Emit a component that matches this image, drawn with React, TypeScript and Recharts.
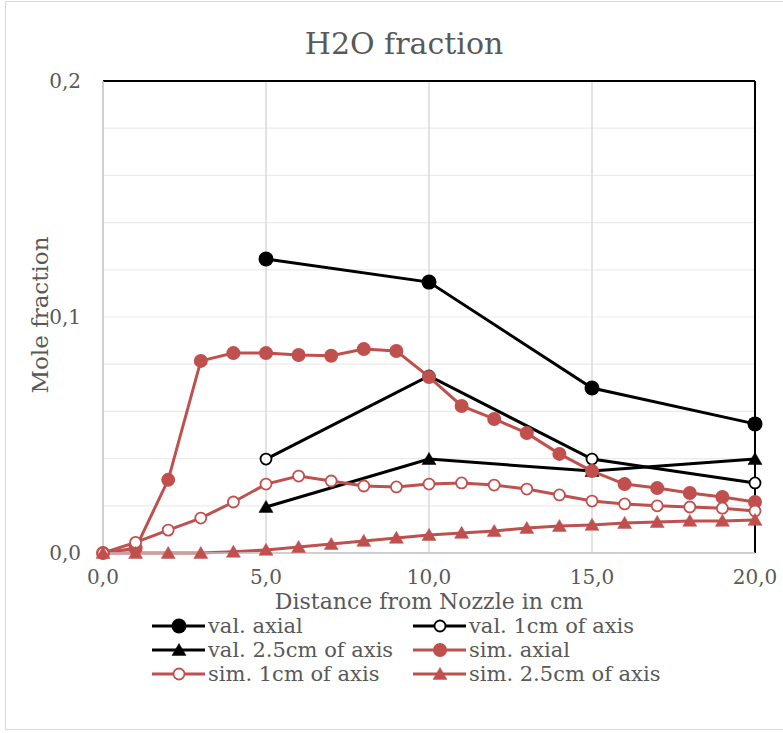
import React from 'react';
import { LineChart, Line, XAxis, YAxis, CartesianGrid, ReferenceLine, Legend } from 'recharts';

const valX = [5, 10, 15, 20];
const valAxial = [0.1246, 0.1148, 0.0699, 0.0547];
const val1cm = [0.0398, 0.075, 0.0398, 0.0297];
const val25cm = [0.0195, 0.0398, 0.0347, 0.0398];

const simX = [0, 1, 2, 3, 4, 5, 6, 7, 8, 9, 10, 11, 12, 13, 14, 15, 16, 17, 18, 19, 20];
const simAxial = [0, 0.002, 0.031, 0.0814, 0.0847, 0.0847, 0.0839, 0.0836, 0.0864, 0.0856, 0.0746, 0.0623, 0.0568, 0.0508, 0.042, 0.0347, 0.0292, 0.0275, 0.0254, 0.0237, 0.0216];
const sim1cm = [0, 0.0045, 0.0097, 0.0148, 0.0216, 0.0292, 0.0326, 0.0305, 0.0284, 0.028, 0.0292, 0.0297, 0.0288, 0.0271, 0.0246, 0.022, 0.0208, 0.02, 0.0195, 0.019, 0.0178];
const sim25cm = [0, 0, 0, 0, 0.0005, 0.0013, 0.0025, 0.0038, 0.0051, 0.0064, 0.0076, 0.0085, 0.0093, 0.0106, 0.0114, 0.0119, 0.0127, 0.0131, 0.0136, 0.0136, 0.014];

const xTicks = [0, 5, 10, 15, 20];
const yTicks = [0, 0.1, 0.2];
const yGrid = [0.02, 0.04, 0.06, 0.08, 0.1, 0.12, 0.14, 0.16, 0.18];
const xGrid = [5, 10, 15];

const seriesNames = ['val. axial', 'val. 1cm of axis', 'val. 2.5cm of axis', 'sim. axial', 'sim. 1cm of axis', 'sim. 2.5cm of axis'];

const valData = valX.map((x, i) => ({ x, a: valAxial[i], b: val1cm[i], c: val25cm[i] }));
const simData = simX.map((x, i) => ({ x, a: simAxial[i], b: sim1cm[i], c: sim25cm[i] }));

const RED = '#C0504D';
const BLACK = '#000000';
const TEXT = '#595959';
const FONT = '"DejaVu Serif", serif';

type Kind = 'filled' | 'open' | 'tri';

const shape = (kind: Kind, color: string, cx: number, cy: number, key?: any, big = false) => {
  if (kind === 'filled') {
    return <circle key={key} cx={cx} cy={cy} r={big ? 7.5 : 7} fill={color} stroke={color} strokeWidth={0} />;
  }
  if (kind === 'open') {
    return <circle key={key} cx={cx} cy={cy} r={5.5} fill="#ffffff" stroke={color} strokeWidth={1.8} />;
  }
  const w = 14;
  const h = 12;
  const pts = `${cx},${cy - h * 0.55} ${cx - w / 2},${cy + h * 0.45} ${cx + w / 2},${cy + h * 0.45}`;
  return <polygon key={key} points={pts} fill={color} stroke={color} strokeWidth={0.5} />;
};

const makeDot = (kind: Kind, color: string, big = false) => (props: any) => {
  const { cx, cy, index } = props;
  if (cx == null || cy == null) return <g key={index} />;
  return shape(kind, color, cx, cy, index, big);
};

const series = [
  { name: seriesNames[0], data: valData, key: 'a', color: BLACK, kind: 'filled' as Kind, big: true, sw: 3 },
  { name: seriesNames[1], data: valData, key: 'b', color: BLACK, kind: 'open' as Kind, big: false, sw: 3 },
  { name: seriesNames[2], data: valData, key: 'c', color: BLACK, kind: 'tri' as Kind, big: false, sw: 3 },
  { name: seriesNames[3], data: simData, key: 'a', color: RED, kind: 'filled' as Kind, big: false, sw: 3 },
  { name: seriesNames[4], data: simData, key: 'b', color: RED, kind: 'open' as Kind, big: false, sw: 3 },
  { name: seriesNames[5], data: simData, key: 'c', color: RED, kind: 'tri' as Kind, big: false, sw: 3 },
];

const fmt = (v: number) => v.toFixed(1).replace('.', ',');

const legendCols = [152, 413];
const legendRows = [626, 650, 674];

const LegendContent = () => (
  <div style={{ position: 'relative', width: 783, height: 0 }}>
    {series.map((s, i) => {
      const col = i % 2;
      const row = Math.floor(i / 2);
      const left = legendCols[col];
      const cy = legendRows[row];
      return (
        <div key={i} style={{ position: 'absolute', left, top: cy - 11, height: 22, display: 'flex', alignItems: 'center', whiteSpace: 'nowrap' }}>
          <svg width={54} height={22} style={{ display: 'block' }}>
            <line x1={0} y1={11} x2={53} y2={11} stroke={s.color} strokeWidth={3.2} />
            {shape(s.kind, s.color, 27, 11, undefined, s.big)}
          </svg>
          <span style={{ fontFamily: FONT, fontSize: 21, color: TEXT, marginLeft: 2, lineHeight: '22px' }}>{s.name}</span>
        </div>
      );
    })}
  </div>
);

export default function App() {
  return (
    <div style={{ position: 'absolute', left: 0, top: 0, width: 783, height: 733, overflow: 'hidden', background: '#ffffff' }}>
      <div style={{ position: 'absolute', left: 5, top: 1, width: 790, height: 729, border: '1px solid #d9d9d9', boxSizing: 'border-box' }} />
      <LineChart
        width={783}
        height={733}
        margin={{ top: 81, right: 28, bottom: 150, left: 43 }}
        style={{ position: 'absolute', left: 0, top: 0 }}
      >
        <CartesianGrid horizontal={true} vertical={false} horizontalValues={yGrid} stroke="#ebebeb" strokeWidth={1.2} />
        {xGrid.map((v) => (
          <ReferenceLine key={'vx' + v} x={v} stroke="#d9d9d9" strokeWidth={1.5} />
        ))}
        <ReferenceLine y={0.2} stroke="#000000" strokeWidth={2} />
        <ReferenceLine x={20} stroke="#000000" strokeWidth={2} />
        <XAxis
          type="number"
          dataKey="x"
          domain={[0, 20]}
          ticks={xTicks}
          allowDuplicatedCategory={false}
          tickFormatter={fmt}
          axisLine={{ stroke: '#bfbfbf', strokeWidth: 1.5 }}
          tickLine={false}
          tickSize={6}
          tickMargin={11}
          height={30}
          tick={{ fill: TEXT, fontSize: 20, fontFamily: FONT }}
        />
        <YAxis
          type="number"
          domain={[0, 0.2]}
          ticks={yTicks}
          tickFormatter={fmt}
          axisLine={{ stroke: '#bfbfbf', strokeWidth: 1.5 }}
          tickLine={false}
          tickSize={6}
          tickMargin={16}
          width={60}
          tick={{ fill: TEXT, fontSize: 20, fontFamily: FONT }}
        />
        {series.map((s, i) => (
          <Line
            key={i}
            name={s.name}
            data={s.data}
            dataKey={s.key}
            type="linear"
            stroke={s.color}
            strokeWidth={s.sw}
            dot={makeDot(s.kind, s.color, s.big)}
            activeDot={false}
            isAnimationActive={false}
          />
        ))}
        <Legend content={LegendContent} wrapperStyle={{ position: 'absolute', left: 0, top: 0, width: 783, height: 0 }} />
      </LineChart>
      <div style={{ position: 'absolute', left: 404 - 200, top: 25, width: 400, textAlign: 'center', fontFamily: FONT, fontSize: 30, color: TEXT, lineHeight: '38px' }}>
        H2O fraction
      </div>
      <div style={{ position: 'absolute', left: 429 - 200, top: 590, width: 400, textAlign: 'center', fontFamily: FONT, fontSize: 22, color: TEXT, lineHeight: '24px' }}>
        Distance from Nozzle in cm
      </div>
      <div style={{ position: 'absolute', left: 40 - 150, top: 315 - 14, width: 300, height: 28, textAlign: 'center', fontFamily: FONT, fontSize: 23, color: TEXT, lineHeight: '28px', transform: 'rotate(-90deg)', transformOrigin: '150px 14px' }}>
        Mole fraction
      </div>
    </div>
  );
}
